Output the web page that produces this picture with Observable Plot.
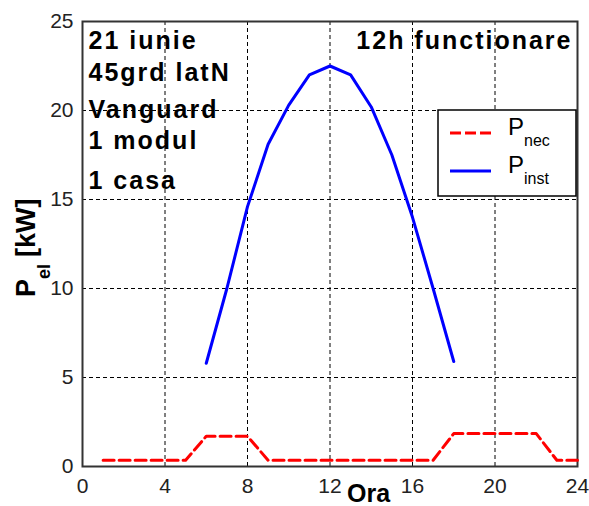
<!DOCTYPE html>
<html><head><meta charset="utf-8">
<script src="https://cdn.jsdelivr.net/npm/d3@7"></script>
<script src="https://cdn.jsdelivr.net/npm/@observablehq/plot@0.6"></script>
<style>body{margin:0;background:#fff} svg{display:block}</style>
</head><body><div id="chart"></div>
<script>
// ---- data ----
const hoursNec = [1,2,3,4,5,6,7,8,9,10,11,12,13,14,15,16,17,18,19,20,21,22,23,24];
const pNec     = [0.35,0.35,0.35,0.35,0.35,1.7,1.7,1.7,0.35,0.35,0.35,0.35,0.35,0.35,0.35,0.35,0.35,1.85,1.85,1.85,1.85,1.85,0.35,0.35];
const hoursInst = [6,7,8,9,10,11,12,13,14,15,16,17,18];
const pInst     = [5.8,10.0,14.6,18.1,20.3,22.0,22.5,22.0,20.2,17.5,14.0,10.0,5.9];
const xTicks = [0,4,8,12,16,20,24];
const yTicks = [0,5,10,15,20,25];
const notesLeft = ["21 iunie","45grd latN","Vanguard","1 modul","1 casa"];
const noteRight = "12h functionare";
const xLabel = "Ora";
const yLabelMain = "P", yLabelSub = "el", yLabelUnit = "[kW]";
const seriesMain = "P";
const seriesSubs = ["nec","inst"];
const seriesColors = ["#ff0000","#0000ff"];

// ---- build ----
const font = "'Liberation Sans', Arial, Helvetica, sans-serif";
const nec = hoursNec.map((h,i)=>({h, p:pNec[i]}));
const inst = hoursInst.map((h,i)=>({h, p:pInst[i]}));
const noteDy = [27, 59, 96, 127, 167];

const plot = Plot.plot({
  width: 589, height: 506,
  marginLeft: 82, marginRight: 12, marginTop: 21, marginBottom: 40,
  style: {fontFamily: font, fontSize: "21px", color: "#222", background: "#fff"},
  x: {domain: [0,24]},
  y: {domain: [0,25]},
  marks: [
    Plot.gridX(xTicks, {stroke:"#000", strokeOpacity:1, strokeWidth:1, strokeDasharray:"4,3"}),
    Plot.gridY(yTicks, {stroke:"#000", strokeOpacity:1, strokeWidth:1, strokeDasharray:"4,3"}),
    Plot.axisX(xTicks, {tickSize:0, tickPadding:12, label:null, fontSize:21}),
    Plot.axisY(yTicks, {tickSize:0, tickPadding:9, label:null, fontSize:21}),
    Plot.frame({stroke:"#333", strokeWidth:2}),
    Plot.line(nec, {x:"h", y:"p", stroke:seriesColors[0], strokeWidth:3, strokeDasharray:"11,5"}),
    Plot.line(inst, {x:"h", y:"p", stroke:seriesColors[1], strokeWidth:3}),
    ...notesLeft.map((t,i)=>Plot.text([t], {text:d=>d, frameAnchor:"top-left", dx:6, dy:noteDy[i], textAnchor:"start", lineAnchor:"bottom", fontSize:25, fontWeight:"bold", fill:"#000"})),
    Plot.text([noteRight], {text:d=>d, frameAnchor:"top-right", dx:-5, dy:27, textAnchor:"end", lineAnchor:"bottom", fontSize:25, fontWeight:"bold", fill:"#000"}),
    Plot.text([xLabel], {text:d=>d, frameAnchor:"bottom", dx:38.5, dy:35, lineAnchor:"bottom", fontSize:25, fontWeight:"bold", fill:"#000"})
  ]
});

const svg = d3.select(plot);
const spaced = new Set([...notesLeft, noteRight]);
svg.selectAll("text").filter(function(){ return spaced.has(this.textContent); })
  .attr("letter-spacing", "2").style("letter-spacing", "2px");

// y label
const yl = svg.append("text").attr("transform","translate(35,297) rotate(-90)")
  .attr("text-anchor","start")
  .attr("font-family", font).attr("font-weight","bold").attr("font-size",27).attr("fill","#000");
yl.append("tspan").text(yLabelMain);
yl.append("tspan").attr("font-size",18).attr("dy",15).text(yLabelSub);
yl.append("tspan").attr("dy",-15).attr("dx",7).text(yLabelUnit);

// legend
const lg = svg.append("g").attr("text-anchor","start");
lg.append("rect").attr("x",438).attr("y",110).attr("width",138).attr("height",86)
  .attr("fill","#fff").attr("stroke","#000").attr("stroke-width",1.5);
seriesSubs.forEach((s,i)=>{
  const cy = 133 + i*38;
  lg.append("line").attr("x1",450).attr("x2",491).attr("y1",cy).attr("y2",cy)
    .attr("stroke",seriesColors[i]).attr("stroke-width",3)
    .attr("stroke-dasharray", i===0 ? "11,4" : null);
  const t = lg.append("text").attr("x",508).attr("y",cy+2).attr("font-family",font)
    .attr("font-size",24).attr("fill","#000");
  t.append("tspan").text(seriesMain);
  t.append("tspan").attr("font-size",16).attr("dy",11).text(s);
});

document.getElementById("chart").appendChild(plot);
</script>
</body></html>
